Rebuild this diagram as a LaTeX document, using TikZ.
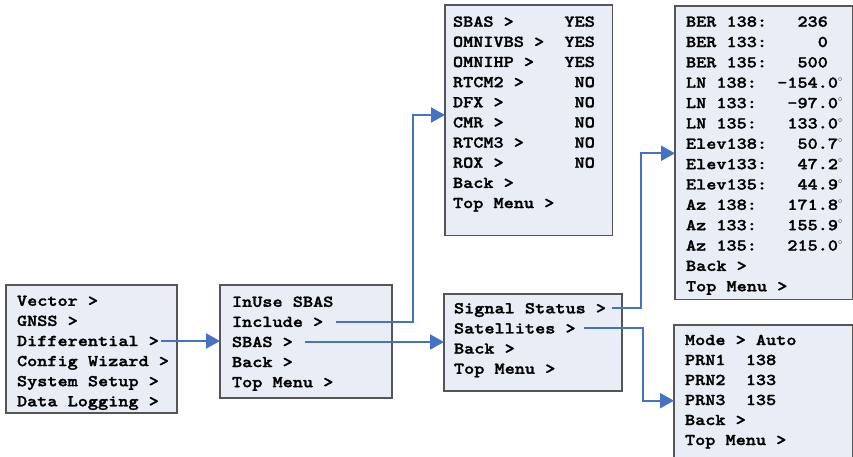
\documentclass[tikz,border=0pt]{standalone}
\usepackage{fontspec}
\newfontfamily\courb{lmmonolt10-bold.otf}[FakeStretch=1.17,FakeBold=1.6]
\usetikzlibrary{arrows.meta}
\definecolor{boxfill}{HTML}{E9EEF6}
\definecolor{boxline}{HTML}{555555}
\definecolor{arrowblue}{HTML}{4472C4}
\newcommand\dg{${}^{\scriptscriptstyle\circ}$}
\begin{document}
\begin{tikzpicture}[x=1pt,y=-1pt,
 menubox/.style={draw=boxline, fill=boxfill, line width=1.1pt, anchor=north west, inner sep=0pt, outer sep=0pt},
 item/.style={anchor=west, inner sep=0pt, outer sep=0pt, text height=10pt, text depth=0pt, font=\fontsize{16.5}{20}\courb},
 link/.style={draw=arrowblue, line width=2pt, -{Triangle[length=14pt,width=15pt]}},
]
\useasboundingbox (0,0) rectangle (853,457);
% boxes
\node[menubox, minimum width=171pt, minimum height=128pt] (b1) at (6,285) {};
\node[menubox, minimum width=172pt, minimum height=113pt] (b2) at (220,285) {};
\node[menubox, minimum width=167.7pt, minimum height=230.7pt] (b3) at (445,5) {};
\node[menubox, minimum width=177.5pt, minimum height=293.3pt] (b4) at (675,6) {};
\node[menubox, minimum width=178pt, minimum height=97pt] (b5) at (444,294) {};
\node[menubox, minimum width=178.5pt, minimum height=140pt] (b6) at (674,325) {};
% texts
\foreach \t [count=\i from 0] in {Vector~>, GNSS~>, Differential~>, Config~Wizard~>, System~Setup~>, Data~Logging~>}
  \node[item] (b1l\i) at (17,300.8+20.1*\i) {\t};
\foreach \t [count=\i from 0] in {InUse~SBAS, Include~>, SBAS~>, Back~>, Top~Menu~>}
  \node[item] (b2l\i) at (232,301.8+20.1*\i) {\t};
\foreach \t [count=\i from 0] in {SBAS~>~~~~~YES, OMNIVBS~>~~YES, OMNIHP~>~~~YES, RTCM2~>~~~~~NO, DFX~>~~~~~~~NO, CMR~>~~~~~~~NO, RTCM3~>~~~~~NO, ROX~>~~~~~~~NO, Back~>, Top~Menu~>}
  \node[item] (b3l\i) at (453,21.7+20.15*\i) {\t};
\foreach \t [count=\i from 0] in {BER~138:~~~236, BER~133:~~~~~0, BER~135:~~~500, LN~138:~~-154.0\dg, LN~133:~~~-97.0\dg, LN~135:~~~133.0\dg, Elev138:~~~50.7\dg, Elev133:~~~47.2\dg, Elev135:~~~44.9\dg, Az~138:~~~171.8\dg, Az~133:~~~155.9\dg, Az~135:~~~215.0\dg, Back~>, Top~Menu~>}
  \node[item] (b4l\i) at (686,21.7+20.35*\i) {\t};
\foreach \t [count=\i from 0] in {Signal~Status~>, Satellites~>, Back~>, Top~Menu~>}
  \node[item] (b5l\i) at (454,308.3+20.15*\i) {\t};
\foreach \t [count=\i from 0] in {Mode~>~Auto, PRN1~~138, PRN2~~133, PRN3~~135, Back~>, Top~Menu~>}
  \node[item] (b6l\i) at (685,340+20*\i) {\t};
% connectors
\coordinate (k1) at (413,115);
\coordinate (k2) at (641,153.3);
\coordinate (k3) at (642.7,400.7);
\draw[link] ([xshift=2pt]b1l2.east) -- (b1l2.east -| b2.west);
\draw[link] ([xshift=13pt]b2l1.east) -| (k1) -- (k1 -| b3.west);
\draw[link] ([xshift=12pt]b2l2.east) -- (b2l2.east -| b5.west);
\draw[link] ([xshift=6pt]b5l0.east) -| (k2) -- (k2 -| b4.west);
\draw[link] ([xshift=8pt]b5l1.east) -| (k3) -- (k3 -| b6.west);
\end{tikzpicture}
\end{document}
